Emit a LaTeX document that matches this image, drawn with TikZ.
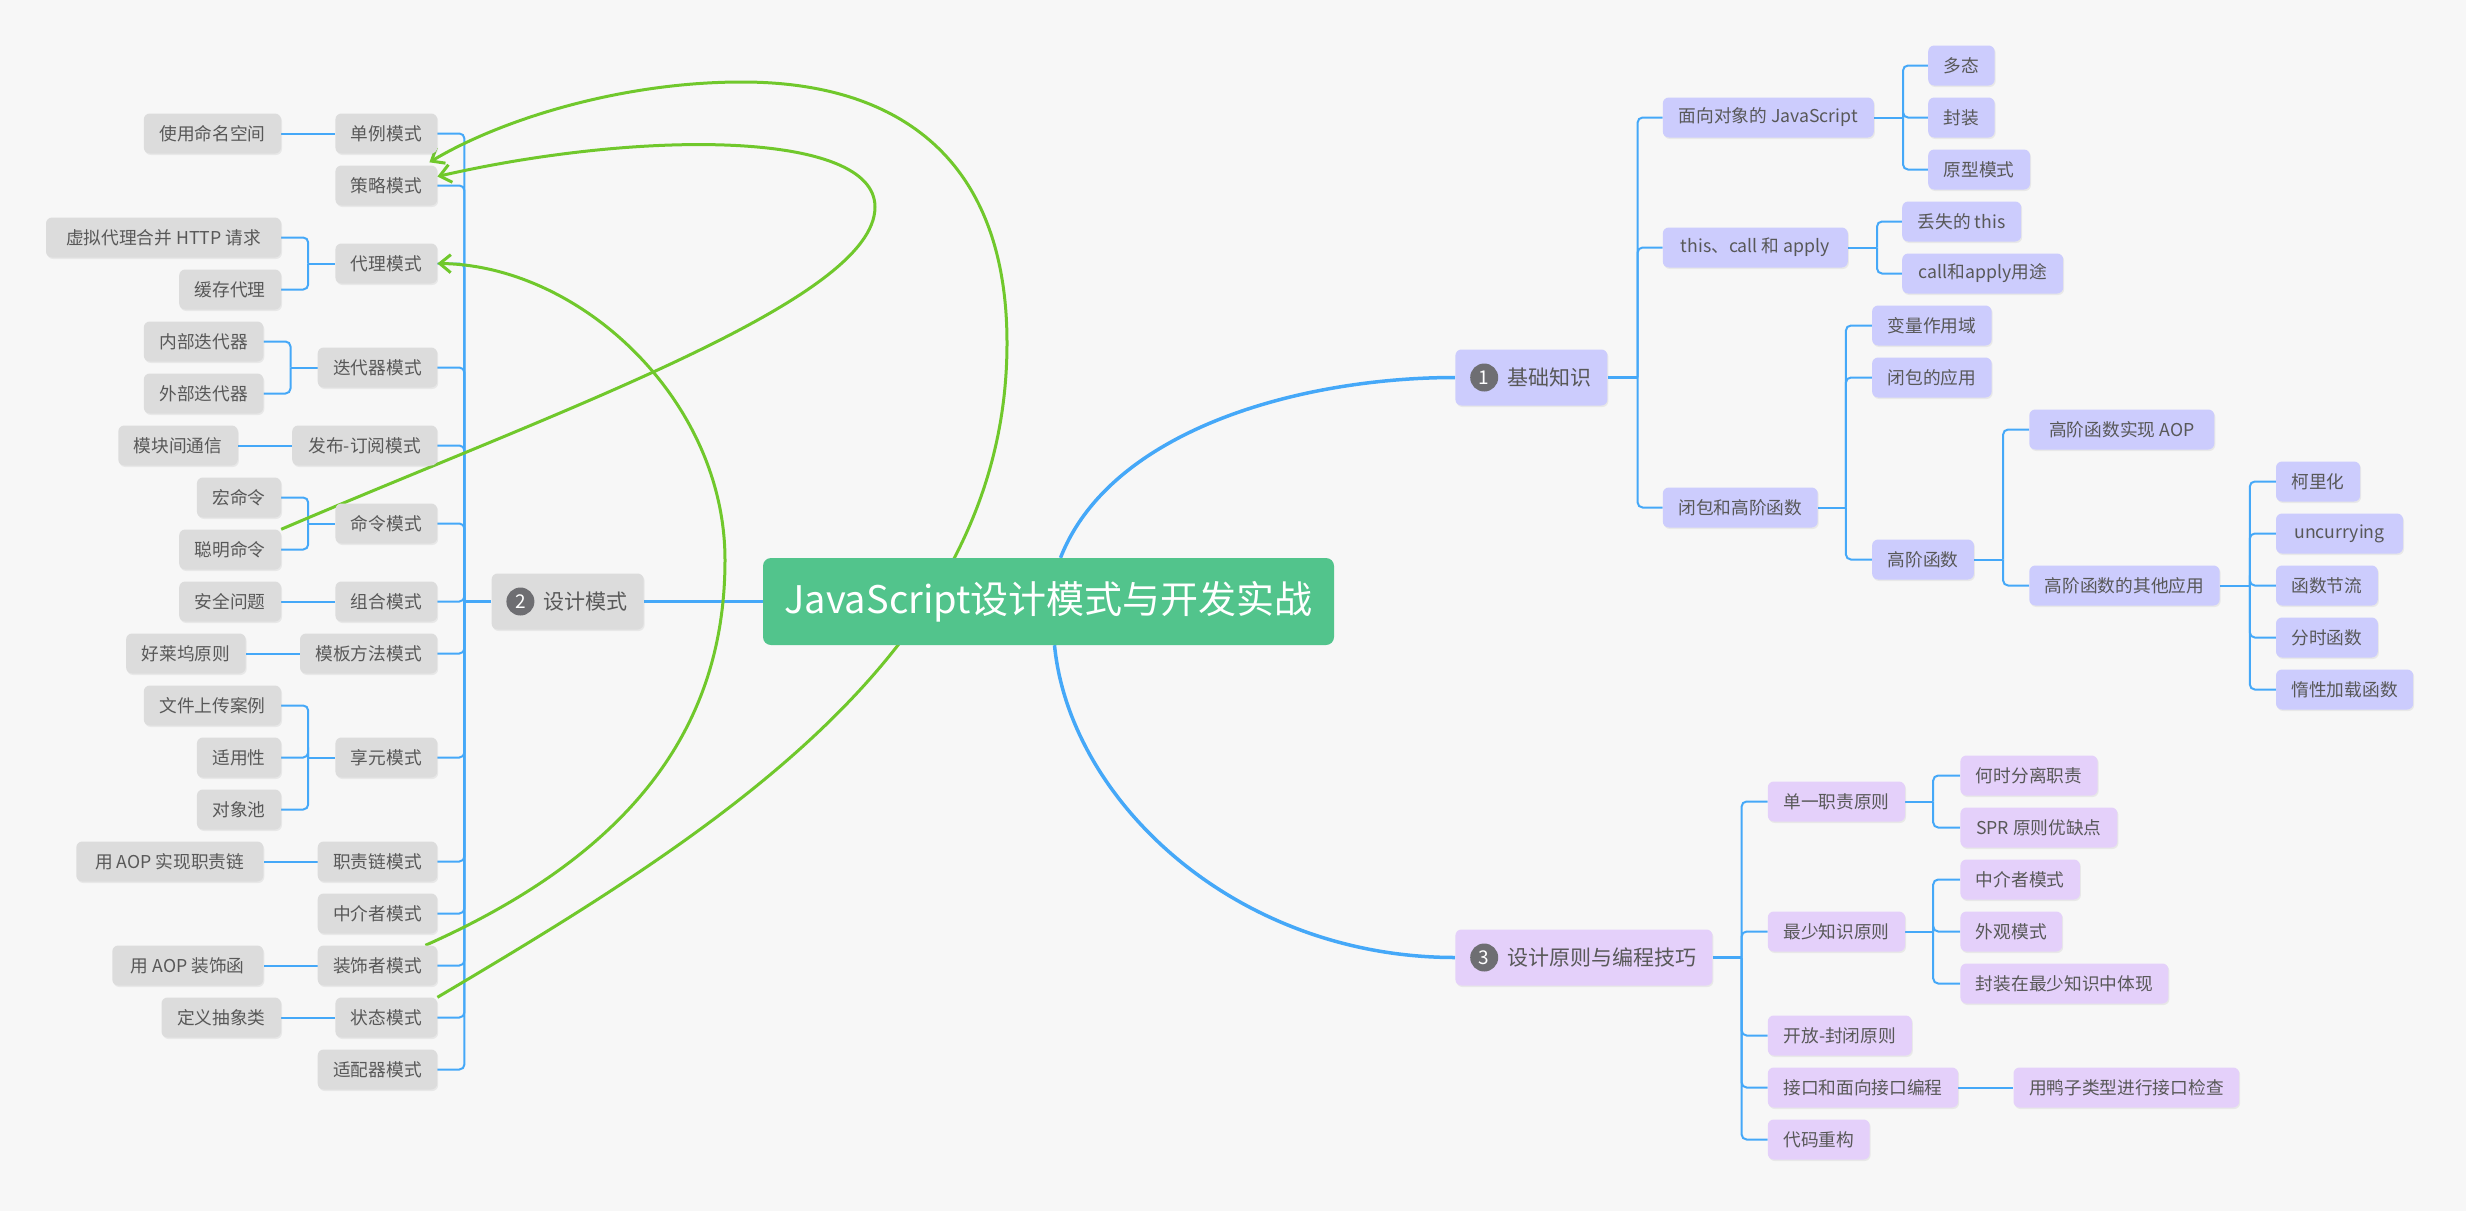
\documentclass[tikz,border=0pt]{standalone}
\usepackage{fontspec}
\setmainfont{Noto Sans CJK SC}
\usepackage{tikz}
\usetikzlibrary{positioning, arrows.meta, shadows, backgrounds}

\definecolor{pagebg}{HTML}{F7F7F7}
\definecolor{rootgreen}{HTML}{52C48C}
\definecolor{linkblue}{HTML}{45A8F8}
\definecolor{relgreen}{HTML}{70C82C}
\definecolor{boxgray}{HTML}{DCDCDC}
\definecolor{boxlav}{HTML}{CCCCFD}
\definecolor{boxvio}{HTML}{E4D0FA}
\definecolor{txtgray}{HTML}{585858}
\definecolor{dotgray}{HTML}{6E6E72}

\begin{document}
\begin{tikzpicture}[
    x=1pt, y=-1pt,
    box/.style={rectangle, rounded corners=6pt, inner xsep=15.5pt, inner ysep=0pt, minimum height=40pt, text=txtgray, font=\fontsize{17.7}{20}\selectfont, drop shadow={shadow xshift=1pt, shadow yshift=-1.5pt, opacity=0.12}},
    pat/.style={box, fill=boxgray},
    basic/.style={box, fill=boxlav},
    rule/.style={box, fill=boxvio},
    topic/.style={minimum height=56pt, inner xsep=16pt, font=\fontsize{21}{24}\selectfont},
    numdot/.style={circle, fill=dotgray, text=white, minimum size=28pt, inner sep=0pt, font=\fontsize{19}{19}\selectfont},
    root/.style={rectangle, rounded corners=8pt, fill=rootgreen, text=white, minimum width=571pt, minimum height=87pt, font=\fontsize{38}{40}\selectfont},
    branch/.style={draw=linkblue, line width=2pt, rounded corners=5pt},
    trunk/.style={draw=linkblue, line width=3pt},
    mainlink/.style={draw=linkblue, line width=3.5pt},
    relation/.style={draw=relgreen, line width=3pt, -{Straight Barb[length=11pt, width=18pt]}}
]
    \useasboundingbox (0,0) rectangle (2466,1211);

    % 中心主题
    \node[root] (main) at (1048.5,601.5) {JavaScript设计模式与开发实战};

    % 左侧: 设计模式
    \node[pat, topic, left=119pt of main] (dp) {\hspace*{36pt}设计模式};
    \node[numdot] (n2) at ([xshift=29pt]dp.west) {2};

    \node[pat, left=54pt of dp, yshift=468pt] (dl) {单例模式};
    \node[pat, left=54pt of dp, yshift=416pt] (cl) {策略模式};
    \node[pat, left=54pt of dp, yshift=338pt] (dlms) {代理模式};
    \node[pat, left=54pt of dp, yshift=234pt] (ddq) {迭代器模式};
    \node[pat, left=54pt of dp, yshift=156pt, minimum width=145pt] (fbdy) {发布-订阅模式};
    \node[pat, left=54pt of dp, yshift=78pt] (ml) {命令模式};
    \node[pat, left=54pt of dp] (zh) {组合模式};
    \node[pat, left=54pt of dp, yshift=-52pt] (mbff) {模板方法模式};
    \node[pat, left=54pt of dp, yshift=-156pt] (xy) {享元模式};
    \node[pat, left=54pt of dp, yshift=-260pt] (zrl) {职责链模式};
    \node[pat, left=54pt of dp, yshift=-312pt] (zjz) {中介者模式};
    \node[pat, left=54pt of dp, yshift=-364pt] (zsz) {装饰者模式};
    \node[pat, left=54pt of dp, yshift=-416pt] (zt) {状态模式};
    \node[pat, left=54pt of dp, yshift=-468pt] (spq) {适配器模式};

    \node[pat, left=54pt of dl] (mmkj) {使用命名空间};
    \node[pat, left=54pt of dlms, yshift=26pt, minimum width=235pt] (xndl) {虚拟代理合并 HTTP 请求};
    \node[pat, left=54pt of dlms, yshift=-26pt] (hcdl) {缓存代理};
    \node[pat, left=54pt of ddq, yshift=26pt] (nbddq) {内部迭代器};
    \node[pat, left=54pt of ddq, yshift=-26pt] (wbddq) {外部迭代器};
    \node[pat, left=54pt of fbdy] (mktx) {模块间通信};
    \node[pat, left=54pt of ml, yshift=26pt] (hml) {宏命令};
    \node[pat, left=54pt of ml, yshift=-26pt] (cmml) {聪明命令};
    \node[pat, left=54pt of zh] (aqwt) {安全问题};
    \node[pat, left=54pt of mbff] (hlw) {好莱坞原则};
    \node[pat, left=54pt of xy, yshift=52pt] (wjsc) {文件上传案例};
    \node[pat, left=54pt of xy] (syx) {适用性};
    \node[pat, left=54pt of xy, yshift=-52pt] (dxc) {对象池};
    \node[pat, left=54pt of zrl, minimum width=187pt] (aopzr) {用 AOP 实现职责链};
    \node[pat, left=54pt of zsz, minimum width=151pt] (aopzs) {用 AOP 装饰函};
    \node[pat, left=54pt of zt] (cxl) {定义抽象类};

    % 右上: 基础知识
    \node[basic, topic, right=121pt of main, yshift=224pt] (jc) {\hspace*{36pt}基础知识};
    \node[numdot] (n1) at ([xshift=29pt]jc.west) {1};

    \node[basic, right=55pt of jc, yshift=260pt, minimum width=211pt] (oop) {面向对象的 JavaScript};
    \node[basic, right=55pt of jc, yshift=130pt, minimum width=185pt] (tca) {this、call 和 apply};
    \node[basic, right=55pt of jc, yshift=-130pt] (bb) {闭包和高阶函数};

    \node[basic, right=54pt of oop, yshift=52pt] (dt) {多态};
    \node[basic, right=54pt of oop] (fz) {封装};
    \node[basic, right=54pt of oop, yshift=-52pt] (yx) {原型模式};
    \node[basic, right=54pt of tca, yshift=26pt, minimum width=119pt] (dsthis) {丢失的 this};
    \node[basic, right=54pt of tca, yshift=-26pt, minimum width=161pt] (cayt) {call和apply用途};
    \node[basic, right=54pt of bb, yshift=182pt] (blzy) {变量作用域};
    \node[basic, right=54pt of bb, yshift=130pt] (bbyy) {闭包的应用};
    \node[basic, right=54pt of bb, yshift=-52pt] (gjhs) {高阶函数};
    \node[basic, right=55pt of gjhs, yshift=130pt, minimum width=185pt] (aop) {高阶函数实现 AOP};
    \node[basic, right=55pt of gjhs, yshift=-26pt] (qtyy) {高阶函数的其他应用};
    \node[basic, right=56pt of qtyy, yshift=104pt] (klh) {柯里化};
    \node[basic, right=56pt of qtyy, yshift=52pt, minimum width=127pt] (unc) {uncurrying};
    \node[basic, right=56pt of qtyy] (jl) {函数节流};
    \node[basic, right=56pt of qtyy, yshift=-52pt] (fs) {分时函数};
    \node[basic, right=56pt of qtyy, yshift=-104pt] (dx) {惰性加载函数};

    % 右下: 设计原则与编程技巧
    \node[rule, topic, right=121pt of main, yshift=-356pt] (sj) {\hspace*{36pt}设计原则与编程技巧};
    \node[numdot] (n3) at ([xshift=29pt]sj.west) {3};

    \node[rule, right=55pt of sj, yshift=156pt] (dyzz) {单一职责原则};
    \node[rule, right=55pt of sj, yshift=26pt] (zszs) {最少知识原则};
    \node[rule, right=55pt of sj, yshift=-78pt, minimum width=144pt] (kfbb) {开放-封闭原则};
    \node[rule, right=55pt of sj, yshift=-130pt] (jkbc) {接口和面向接口编程};
    \node[rule, right=55pt of sj, yshift=-182pt] (dmcg) {代码重构};

    \node[rule, right=55pt of dyzz, yshift=26pt] (hsfl) {何时分离职责};
    \node[rule, right=55pt of dyzz, yshift=-26pt, minimum width=157pt] (spr) {SPR 原则优缺点};
    \node[rule, right=55pt of zszs, yshift=52pt] (zjzms) {中介者模式};
    \node[rule, right=55pt of zszs] (wgms) {外观模式};
    \node[rule, right=55pt of zszs, yshift=-52pt] (fzzs) {封装在最少知识中体现};
    \node[rule, right=55pt of jkbc] (yzlx) {用鸭子类型进行接口检查};

    % 分叉点
    \coordinate[left=27pt of dp] (dpfork);
    \coordinate[left=27pt of dlms] (dlmsfork);
    \coordinate[left=27pt of ddq] (ddqfork);
    \coordinate[left=27pt of ml] (mlfork);
    \coordinate[left=27pt of xy] (xyfork);
    \coordinate[right=30pt of jc] (jcfork);
    \coordinate[right=29pt of oop] (oopfork);
    \coordinate[right=29pt of tca] (tcafork);
    \coordinate[right=28pt of bb] (bbfork);
    \coordinate[right=29pt of gjhs] (gjhsfork);
    \coordinate[right=30pt of qtyy] (qtyyfork);
    \coordinate[right=29pt of sj] (sjfork);
    \coordinate[right=28pt of dyzz] (dyzzfork);
    \coordinate[right=28pt of zszs] (zszsfork);

    \begin{pgfonlayer}{background}
        \fill[pagebg] (0,0) rectangle (2466,1211);

        % 主干连线
        \draw[mainlink] (main) -- (dp);
        \draw[mainlink] ([xshift=12pt]main.north) .. controls +(50,-128) and +(-155,0) .. (jc.west);
        \draw[mainlink] ([xshift=6pt]main.south) .. controls +(15,155) and +(-220,0) .. (sj.west);

        % 左侧连线
        \draw[trunk] (dp) -- (dpfork);
        \foreach \n in {dl,cl,dlms,ddq,fbdy,ml,zh,mbff,xy,zrl,zjz,zsz,zt,spq}
            \draw[branch] (dpfork) |- (\n);
        \draw[branch] (dlms) -- (dlmsfork);
        \foreach \n in {xndl,hcdl} \draw[branch] (dlmsfork) |- (\n);
        \draw[branch] (ddq) -- (ddqfork);
        \foreach \n in {nbddq,wbddq} \draw[branch] (ddqfork) |- (\n);
        \draw[branch] (ml) -- (mlfork);
        \foreach \n in {hml,cmml} \draw[branch] (mlfork) |- (\n);
        \draw[branch] (xy) -- (xyfork);
        \foreach \n in {wjsc,syx,dxc} \draw[branch] (xyfork) |- (\n);
        \draw[branch] (dl) -- (mmkj);
        \draw[branch] (fbdy) -- (mktx);
        \draw[branch] (zh) -- (aqwt);
        \draw[branch] (mbff) -- (hlw);
        \draw[branch] (zrl) -- (aopzr);
        \draw[branch] (zsz) -- (aopzs);
        \draw[branch] (zt) -- (cxl);

        % 右上连线
        \draw[trunk] (jc) -- (jcfork);
        \foreach \n in {oop,tca,bb} \draw[branch] (jcfork) |- (\n);
        \draw[branch] (oop) -- (oopfork);
        \foreach \n in {dt,fz,yx} \draw[branch] (oopfork) |- (\n);
        \draw[branch] (tca) -- (tcafork);
        \foreach \n in {dsthis,cayt} \draw[branch] (tcafork) |- (\n);
        \draw[branch] (bb) -- (bbfork);
        \foreach \n in {blzy,bbyy,gjhs} \draw[branch] (bbfork) |- (\n);
        \draw[branch] (gjhs) -- (gjhsfork);
        \foreach \n in {aop,qtyy} \draw[branch] (gjhsfork) |- (\n);
        \draw[branch] (qtyy) -- (qtyyfork);
        \foreach \n in {klh,unc,jl,fs,dx} \draw[branch] (qtyyfork) |- (\n);

        % 右下连线
        \draw[trunk] (sj) -- (sjfork);
        \foreach \n in {dyzz,zszs,kfbb,jkbc,dmcg} \draw[branch] (sjfork) |- (\n);
        \draw[branch] (dyzz) -- (dyzzfork);
        \foreach \n in {hsfl,spr} \draw[branch] (dyzzfork) |- (\n);
        \draw[branch] (zszs) -- (zszsfork);
        \foreach \n in {zjzms,wgms,fzzs} \draw[branch] (zszsfork) |- (\n);
        \draw[branch] (jkbc) -- (yzlx);

        % 模式之间的关系
        \draw[relation] ([xshift=-12pt]zsz.north east) .. controls (640,850) and (725,720) .. (725,560)
            .. controls (725,400) and (580,265) .. (dlms.east);
        \draw[relation] (zt.north east) .. controls (720,830) and (1007,650) .. (1007,343)
            .. controls (1007,160) and (900,82) .. (742,82)
            .. controls (620,82) and (500,120) .. ([xshift=-8pt,yshift=3pt]cl.north east);
        \draw[relation] (cmml.north east) .. controls (560,410) and (875,300) .. (875,207)
            .. controls (875,130) and (640,130) .. ([yshift=9pt]cl.east);
    \end{pgfonlayer}
\end{tikzpicture}
\end{document}
